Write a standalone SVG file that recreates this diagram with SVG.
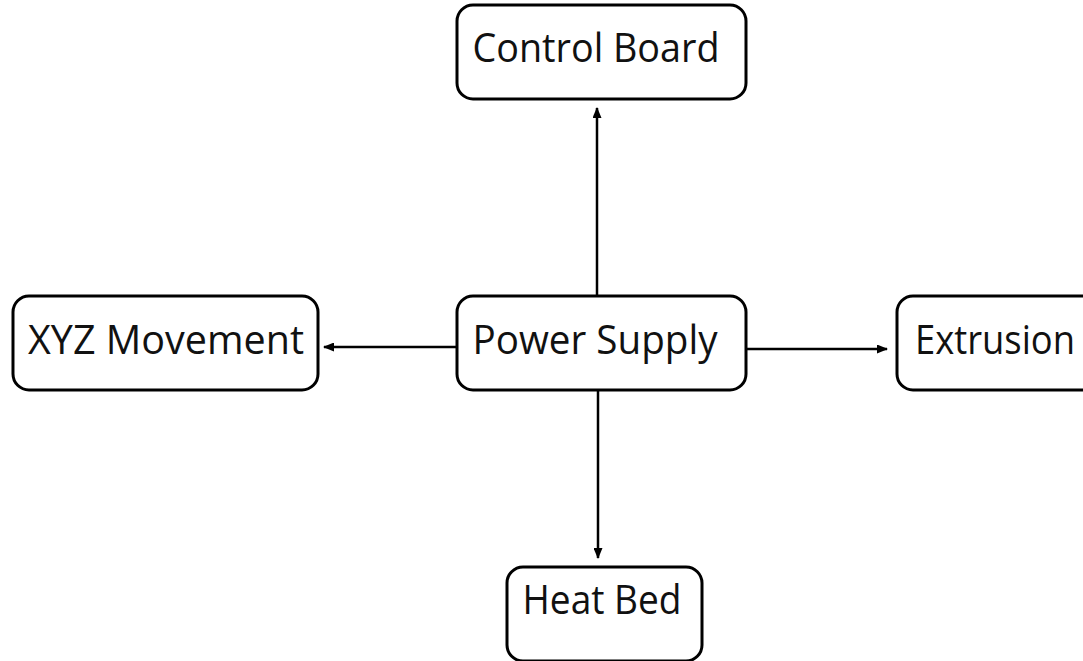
<svg xmlns="http://www.w3.org/2000/svg" width="1083" height="661" viewBox="0 0 1083 661">
<style>
.box{fill:#fff;stroke:#000;stroke-width:3}
.lbl{font-family:"Open Sans","Noto Sans",sans-serif;font-size:40px;fill:#111;text-anchor:middle}
.con{stroke:#000;stroke-width:2.5;fill:none;marker-end:url(#ah)}
</style>
<defs>
<marker id="ah" markerWidth="11" markerHeight="9" refX="10" refY="4.5" orient="auto" markerUnits="userSpaceOnUse">
<path d="M0,0 L11,4.5 L0,9 Z" fill="#000"/>
</marker>
</defs>
<rect width="1083" height="661" fill="#fff"/>
<g id="connectors">
<line class="con" x1="597" y1="296" x2="597" y2="108"/>
<line class="con" x1="457" y1="347" x2="324" y2="347"/>
<line class="con" x1="746" y1="349" x2="887" y2="349"/>
<line class="con" x1="598" y1="390" x2="598" y2="558"/>
</g>
<g id="control-board">
<rect class="box" x="457" y="5" width="289" height="94" rx="16"/>
<text class="lbl" x="596" y="62" textLength="247" lengthAdjust="spacingAndGlyphs">Control Board</text>
</g>
<g id="xyz-movement">
<rect class="box" x="13" y="296" width="305" height="94" rx="16"/>
<text class="lbl" x="166" y="354" textLength="276" lengthAdjust="spacingAndGlyphs">XYZ Movement</text>
</g>
<g id="power-supply">
<rect class="box" x="457" y="296" width="289" height="94" rx="16"/>
<text class="lbl" x="595" y="354" textLength="245" lengthAdjust="spacingAndGlyphs">Power Supply</text>
</g>
<g id="extrusion">
<rect class="box" x="897" y="296" width="210" height="94" rx="16"/>
<text class="lbl" x="995" y="354" textLength="160" lengthAdjust="spacingAndGlyphs">Extrusion</text>
</g>
<g id="heat-bed">
<rect class="box" x="507" y="567" width="195" height="94" rx="16"/>
<text class="lbl" x="602" y="614" textLength="159" lengthAdjust="spacingAndGlyphs">Heat Bed</text>
</g>
</svg>
